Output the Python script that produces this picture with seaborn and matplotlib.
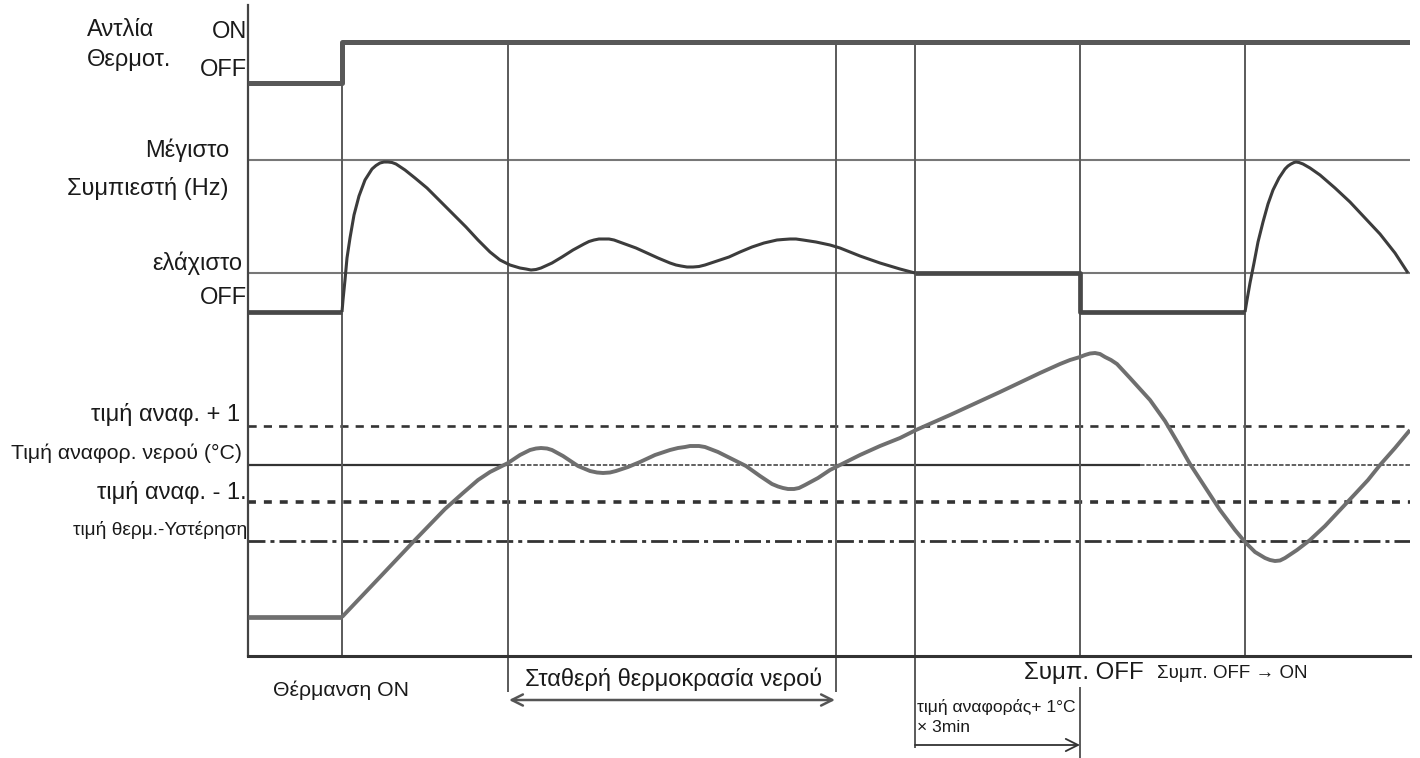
import matplotlib
matplotlib.use("Agg")
import matplotlib.pyplot as plt
import seaborn as sns
import pandas as pd

# ---------------- data (time in arbitrary units, level in arbitrary units) -------------
T_END = 1162
EVENT_T = [94, 260, 588, 667, 832, 997]      # heating ON, stable start, stable end, ref+1 reached, comp OFF, comp ON

PUMP_OFF, PUMP_ON = 573, 614
COMP_MAX, COMP_MIN, COMP_OFF = 496, 383, 344
REF_P1, REF, REF_M1, HYST = 230, 191, 154, 115
WATER_START = 39

pump_t = [0, 94, 94, T_END]
pump_v = [PUMP_OFF, PUMP_OFF, PUMP_ON, PUMP_ON]

comp1_t = [94, 95, 97, 99, 102, 106, 111, 117, 124, 128, 132, 136, 140, 144, 148, 157, 167, 179, 192, 205, 218, 230, 242,
           252, 262, 272, 278, 283, 288, 293, 304, 314, 325, 336, 341, 346, 351, 356, 361, 366, 377, 388, 399, 410, 422,
           428, 433, 439, 445, 451, 457, 469, 481, 492, 504, 516, 529, 535, 542, 548, 555, 568, 582, 592, 612, 632, 652, 667]
comp1_v = [344, 356, 376, 398, 418, 441, 460, 476, 487, 490.5, 493, 494, 494, 493.5, 492, 486, 478, 468, 455, 442, 429, 416, 404,
           396, 391, 388, 387, 386, 386.5, 388, 393, 399, 406, 412, 414.5, 416, 417, 417, 417, 416, 412, 408, 403, 398, 393,
           391, 390, 389, 389, 389.5, 391, 395, 399, 404, 409, 413, 416, 416.5, 417, 417, 416, 414, 411, 408, 400, 393, 387, 383]
comp_step_t = [667, 832, 832, 997]
comp_step_v = [COMP_MIN, COMP_MIN, COMP_OFF, COMP_OFF]
comp_off_t = [0, 94]
comp_off_v = [COMP_OFF, COMP_OFF]
comp2_t = [997, 999, 1002, 1006, 1010, 1015, 1020, 1025, 1031, 1037, 1040, 1043, 1046, 1048, 1051, 1055, 1062, 1072, 1087,
           1102, 1117, 1132, 1147, 1160]
comp2_v = [344, 356, 373, 393, 414, 434, 452, 466, 478, 487, 490, 492, 493.5, 494, 493.5, 492, 488, 481, 468, 454, 438, 422, 403, 383]

water_flat_t = [0, 94]
water_flat_v = [WATER_START, WATER_START]
water_t = [94, 132, 167, 197, 215, 230, 242, 260, 272, 282, 288, 293, 299, 304, 315, 330, 342, 349, 355, 362, 368, 380, 392, 407, 422,
           430, 437, 442, 446, 451, 457, 470, 484, 498, 512, 524, 530, 535, 540, 546, 551, 557, 570, 582, 592, 612, 632, 652, 668, 702, 752,
           792, 812, 822, 832, 837, 842, 847, 852, 857, 863, 869, 882, 892, 902, 917, 930, 942, 957, 972, 987, 997, 1007, 1017, 1022, 1027,
           1032, 1037, 1049, 1062, 1077, 1092, 1107, 1120, 1132, 1147, 1162]
water_v = [39, 79, 116, 147, 163, 176, 184, 193, 201, 206, 207.5, 208, 207.5, 206, 200, 190, 185, 183.5, 183, 183.5, 185, 189, 194, 201, 206,
           208, 209, 210, 210, 210, 209, 204, 197, 190, 180, 172, 169.5, 168, 167, 167, 168, 171, 178, 186, 191, 201, 210, 218, 226, 241, 264,
           283, 292, 296, 299, 301, 302.5, 303, 302, 299, 296, 292, 278, 267, 256, 235, 213, 192, 169, 146, 126, 114, 104, 98, 96, 95,
           95.5, 98, 106, 116, 130, 146, 162, 176, 191, 208, 226]

REF_SOLID = [(0, 260), (588, 892)]
REF_FINE = [(260, 588), (892, T_END)]

# ---------------- figure -------------
sns.set_theme(style="white")
plt.rcParams['font.family'] = ['Liberation Sans', 'DejaVu Sans']
fig = plt.figure(figsize=(14.2, 7.58), dpi=100)
ax = fig.add_axes([248 / 1420, 102 / 758, 1162 / 1420, 651 / 758])
ax.set_xlim(0, T_END)
ax.set_ylim(0, 651)
ax.set_xticks([])
ax.set_yticks([])
for s in ["top", "right"]:
    ax.spines[s].set_visible(False)
ax.spines["left"].set_color("#444444")
ax.spines["left"].set_linewidth(1.6)
ax.spines["bottom"].set_color("#333333")
ax.spines["bottom"].set_linewidth(2.2)

DARK = "#3c3c3c"
GREY = "#6f6f6f"
VCOL = "#5a5a5a"

# horizontal reference levels
ax.hlines([COMP_MAX, COMP_MIN], 0, T_END, color="#777777", lw=1.5, zorder=1)
for a, b in REF_SOLID:
    ax.hlines(REF, a, b, color="#333333", lw=1.6, zorder=1)
for a, b in REF_FINE:
    ax.hlines(REF, a, b, color="#555555", lw=1.3, linestyles=[(0, (2.5, 1.0))], zorder=1)
ax.hlines(REF_P1, 0, T_END, color="#333333", lw=1.9, linestyles=[(0, (3.1, 2.7))], zorder=1)
ax.hlines(REF_M1, 0, T_END, color="#333333", lw=2.6, linestyles=[(0, (2.2, 2.2))], zorder=1)
ax.hlines(HYST, 0, T_END, color="#333333", lw=2.0, linestyles=[(0, (6.1, 1.8, 1.45, 1.8))], zorder=1)

# vertical event lines
ax.vlines(EVENT_T[0], 0, PUMP_ON, color=VCOL, lw=1.4, zorder=1)
ax.vlines([EVENT_T[1], EVENT_T[2]], -36, PUMP_ON, color=VCOL, lw=1.4, zorder=1, clip_on=False)
ax.vlines(EVENT_T[3], -92, PUMP_ON, color=VCOL, lw=1.4, zorder=1, clip_on=False)
ax.vlines([EVENT_T[4], EVENT_T[5]], 0, PUMP_ON, color=VCOL, lw=1.4, zorder=1)
ax.vlines(EVENT_T[4], -102, -31, color=VCOL, lw=1.4, zorder=1, clip_on=False)

# curves
def line(t, v, color, lw):
    df = pd.DataFrame({"t": t, "v": v})
    sns.lineplot(data=df, x="t", y="v", sort=False, estimator=None, ax=ax, color=color, lw=lw,
                 solid_joinstyle="round", solid_capstyle="butt", zorder=3)

line(pump_t, pump_v, "#585858", 3.6)
line(comp_off_t, comp_off_v, "#484848", 3.4)
line(comp1_t, comp1_v, DARK, 2.2)
line(comp_step_t, comp_step_v, "#484848", 3.4)
line(comp2_t, comp2_v, DARK, 2.2)
line(water_flat_t, water_flat_v, GREY, 3.4)
line(water_t, water_v, GREY, 2.8)
ax.set_xlabel("")
ax.set_ylabel("")

# ---------------- labels -------------
FS = 17
TXT = "#1a1a1a"
def txt(t, v, s, ha="right", fs=FS, family=None):
    kw = {}
    if family:
        kw["family"] = family
    ax.text(t, v, s, ha=ha, va="center", fontsize=fs, color=TXT, clip_on=False, **kw)

txt(-161, 626, "Αντλία", ha="left")
txt(-161, 596, "Θερμοτ.", ha="left")
txt(-1, 624, "ON")
txt(-1, 586, "OFF")
txt(-19, 506, "Μέγιστο")
txt(-19, 468, "Συμπιεστή (Hz)")
txt(-6, 393, "ελάχιστο")
txt(-1, 358, "OFF")
txt(-8, 242, "τιμή αναφ. + 1")
txt(-6, 203, "Τιμή αναφορ. νερού (°C)", fs=15.3)
txt(-1, 164, "τιμή αναφ. - 1.")
txt(-1, 126, "τιμή θερμ.-Υστέρηση", fs=13.8)

txt(EVENT_T[0] - 1, -34, "Θέρμανση ON", fs=15.3, ha="center")
txt((EVENT_T[1] + EVENT_T[2]) / 2 + 2, -23, "Σταθερή θερμοκρασία νερού", ha="center")
txt(EVENT_T[4] + 4, -17, "Συμπ. OFF", ha="center", fs=17.3)
txt(EVENT_T[5] - 13, -17, "Συμπ. OFF → ON", ha="center", fs=13.5,
    family=["Liberation Sans Narrow", "Liberation Sans", "DejaVu Sans"])
txt(EVENT_T[3] + 2, -51, "τιμή αναφοράς+ 1°C", ha="left", fs=12.6)
txt(EVENT_T[3] + 2, -72, "× 3min", ha="left", fs=12.6)

ax.annotate("", xy=(EVENT_T[1] + 1, -44), xytext=(EVENT_T[2] - 1, -44), annotation_clip=False,
            arrowprops=dict(arrowstyle="<->", color="#555555", lw=1.8, mutation_scale=20,
                            shrinkA=0, shrinkB=0))
ax.annotate("", xy=(EVENT_T[4], -89), xytext=(EVENT_T[3], -89), annotation_clip=False,
            arrowprops=dict(arrowstyle="->", color="#333333", lw=1.3, mutation_scale=22,
                            shrinkA=0, shrinkB=0))

fig.savefig("out.png", dpi=100)
